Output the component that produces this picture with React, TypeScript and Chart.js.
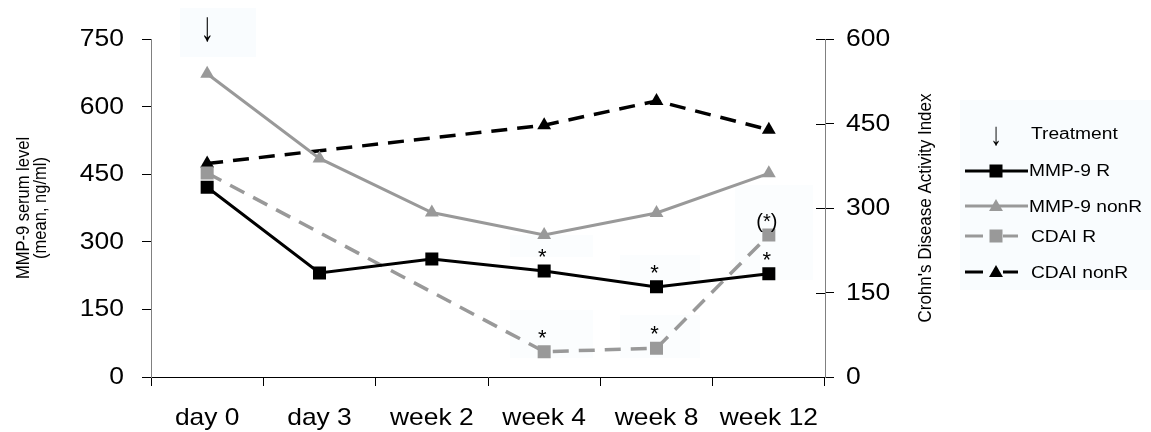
import React, { useEffect, useRef } from 'react';
import { Chart, registerables } from 'chart.js';

Chart.register(...registerables);

const categories = ['day 0', 'day 3', 'week 2', 'week 4', 'week 8', 'week 12'];
const mmp9R = [421, 231, 262, 235, 200, 229];
const mmp9NonR = [673, 485, 365, 315, 364, 452];
const cdaiR = [362, null, null, 45, 51, 252];
const cdaiNonR = [379, null, null, 447, 490, 439];
const leftTicks = [0, 150, 300, 450, 600, 750];
const rightTicks = [0, 150, 300, 450, 600];
const leftTitle = ['MMP-9 serum level', '(mean, ng/ml)'];
const rightTitle = "Crohn's Disease Activity Index";
const seriesNames = ['MMP-9 R', 'MMP-9 nonR', 'CDAI R', 'CDAI nonR'];
const treatmentLabel = 'Treatment';
const annotationSeries = [0, 0, 0, 2, 2, 2];
const annotationIndex = [3, 4, 5, 3, 4, 5];
const annotationText = ['*', '*', '*', '*', '*', '(*)'];

const FONT = '"Liberation Sans", Arial, sans-serif';
const GRAY = '#999999';
const SX = 1.2;

function stretchedText(ctx: CanvasRenderingContext2D, text: string, x: number, y: number, align: CanvasTextAlign, size: number, sx = SX) {
  ctx.save();
  ctx.font = `${size}px ${FONT}`;
  ctx.fillStyle = '#000';
  ctx.textAlign = align;
  ctx.textBaseline = 'alphabetic';
  ctx.translate(x, y);
  ctx.scale(sx, 1);
  ctx.fillText(text, 0, 0);
  ctx.restore();
}

function rotatedText(ctx: CanvasRenderingContext2D, text: string, x: number, y: number, size: number, sy = 1) {
  ctx.save();
  ctx.font = `${size}px ${FONT}`;
  ctx.fillStyle = '#000';
  ctx.textAlign = 'center';
  ctx.textBaseline = 'middle';
  ctx.translate(x, y);
  ctx.rotate(-Math.PI / 2);
  ctx.scale(1, sy);
  ctx.fillText(text, 0, 0);
  ctx.restore();
}

function arrowText(ctx: CanvasRenderingContext2D, x: number, y: number, size: number, sy: number) {
  ctx.save();
  ctx.font = `${size}px ${FONT}`;
  ctx.fillStyle = '#000';
  ctx.textAlign = 'center';
  ctx.textBaseline = 'middle';
  ctx.translate(x, y);
  ctx.scale(0.95, sy);
  ctx.fillText('\u2193', 0, 0);
  ctx.restore();
}

function drawSquare(ctx: CanvasRenderingContext2D, x: number, y: number, color: string) {
  ctx.fillStyle = color;
  ctx.fillRect(x - 6.5, y - 6.5, 13, 13);
}

function drawTriangle(ctx: CanvasRenderingContext2D, x: number, y: number, color: string) {
  const r = 8;
  ctx.fillStyle = color;
  ctx.beginPath();
  ctx.moveTo(x, y - r);
  ctx.lineTo(x + r * 0.866, y + r / 2);
  ctx.lineTo(x - r * 0.866, y + r / 2);
  ctx.closePath();
  ctx.fill();
}

const decorPlugin = {
  id: 'decor',
  beforeDraw(chart: any) {
    const ctx: CanvasRenderingContext2D = chart.ctx;
    ctx.save();
    ctx.fillStyle = '#ffffff';
    ctx.fillRect(0, 0, chart.width, chart.height);
    ctx.fillStyle = '#f9fcfe';
    ctx.fillRect(180, 8, 76, 49);
    ctx.fillRect(960, 100, 191, 190);
    ctx.fillStyle = '#fbfdfe';
    ctx.fillRect(510, 235, 83, 22);
    ctx.fillRect(510, 310, 83, 48);
    ctx.fillRect(620, 255, 80, 25);
    ctx.fillRect(620, 315, 80, 43);
    ctx.fillRect(735, 185, 78, 95);
    ctx.restore();
  },
  afterDraw(chart: any) {
    const ctx: CanvasRenderingContext2D = chart.ctx;
    const yL = chart.scales.y;
    const yR = chart.scales.y1;
    const x = chart.scales.x;
    const area = chart.chartArea;

    // inner part of right axis ticks
    ctx.save();
    ctx.strokeStyle = '#000';
    ctx.lineWidth = 1;
    rightTicks.forEach((v) => {
      const py = Math.round(yR.getPixelForValue(v)) + 0.5;
      ctx.beginPath();
      ctx.moveTo(area.right - 9, py);
      ctx.lineTo(area.right, py);
      ctx.stroke();
    });
    ctx.restore();

    // tick labels
    leftTicks.forEach((v) => {
      stretchedText(ctx, String(v), 124, yL.getPixelForValue(v) + 7, 'right', 23, 1.15);
    });
    rightTicks.forEach((v) => {
      stretchedText(ctx, String(v), 846, yR.getPixelForValue(v) + 7, 'left', 23, 1.15);
    });
    categories.forEach((c, i) => {
      stretchedText(ctx, c, x.getPixelForValue(i), 425, 'center', 24, 1.1);
    });

    // axis titles
    rotatedText(ctx, leftTitle[0], 24, 208, 16.5, 1.15);
    rotatedText(ctx, leftTitle[1], 41, 208, 16.5, 1.15);
    rotatedText(ctx, rightTitle, 926, 208, 17, 1.1);

    // treatment arrow
    arrowText(ctx, x.getPixelForValue(0), 29, 28, 1.5);

    // annotations
    annotationText.forEach((t, k) => {
      const pt = chart.getDatasetMeta(annotationSeries[k]).data[annotationIndex[k]];
      if (!pt) return;
      const size = t === '*' ? 22 : 20;
      stretchedText(ctx, t, pt.x - 2, pt.y - 7, 'center', size, 1.0);
    });

    // legend
    arrowText(ctx, 996, 136, 24, 1.35);
    stretchedText(ctx, treatmentLabel, 1031, 139, 'left', 16);

    const rows = [
      { y: 171, color: '#000', dash: [] as number[], shape: 'sq', tx: 1029, ty: 176 },
      { y: 206, color: GRAY, dash: [] as number[], shape: 'tri', tx: 1029, ty: 212 },
      { y: 236, color: GRAY, dash: [18, 20], shape: 'sq', tx: 1031, ty: 242 },
      { y: 272, color: '#000', dash: [18, 20], shape: 'tri', tx: 1031, ty: 278 },
    ];
    rows.forEach((r, i) => {
      ctx.save();
      ctx.strokeStyle = r.color;
      ctx.lineWidth = 3;
      ctx.setLineDash(r.dash);
      ctx.beginPath();
      ctx.moveTo(965, r.y);
      ctx.lineTo(r.dash.length ? 1018 : 1028, r.y);
      ctx.stroke();
      ctx.restore();
      if (r.shape === 'sq') drawSquare(ctx, 996, r.y, r.color);
      else drawTriangle(ctx, 996, r.y + 1, r.color);
      stretchedText(ctx, seriesNames[i], r.tx, r.ty, 'left', 16);
    });
  },
};

export default function App() {
  const ref = useRef<HTMLCanvasElement>(null);
  useEffect(() => {
    document.body.style.margin = '0';
    const canvas = ref.current!;
    const chart = new Chart(canvas, {
      type: 'line',
      data: {
        labels: categories,
        datasets: [
          {
            label: seriesNames[0], data: mmp9R, yAxisID: 'y',
            borderColor: '#000', backgroundColor: '#000', borderWidth: 3,
            pointStyle: 'rect', pointRadius: 9.2, pointBorderWidth: 0,
            pointBackgroundColor: '#000', tension: 0,
          },
          {
            label: seriesNames[1], data: mmp9NonR, yAxisID: 'y',
            borderColor: GRAY, backgroundColor: GRAY, borderWidth: 3,
            pointStyle: 'triangle', pointRadius: 8, pointBorderWidth: 0,
            pointBackgroundColor: GRAY, tension: 0,
          },
          {
            label: seriesNames[2], data: cdaiR, yAxisID: 'y1', spanGaps: true,
            borderColor: GRAY, backgroundColor: GRAY, borderWidth: 3.5, borderDash: [16, 10],
            pointStyle: 'rect', pointRadius: 9.2, pointBorderWidth: 0,
            pointBackgroundColor: GRAY, tension: 0,
          },
          {
            label: seriesNames[3], data: cdaiNonR, yAxisID: 'y1', spanGaps: true,
            borderColor: '#000', backgroundColor: '#000', borderWidth: 3.5, borderDash: [16, 10],
            pointStyle: 'triangle', pointRadius: 8, pointBorderWidth: 0,
            pointBackgroundColor: '#000', tension: 0,
          },
        ] as any,
      },
      options: {
        responsive: false,
        animation: false,
        events: [],
        layout: { padding: { top: 39, left: 0, right: 0, bottom: 0 } },
        plugins: { legend: { display: false }, tooltip: { enabled: false } },
        scales: {
          x: {
            type: 'category',
            offset: true,
            grid: { offset: true, drawOnChartArea: false, drawTicks: true, tickLength: 9, tickColor: '#000', tickWidth: 1 },
            border: { display: true, color: '#000', width: 1 },
            ticks: { display: false },
            afterFit: (s: any) => { s.height = 55; },
          },
          y: {
            position: 'left', min: 0, max: 750,
            afterBuildTicks: (s: any) => { s.ticks = leftTicks.map((v) => ({ value: v })); },
            grid: { drawOnChartArea: false, drawTicks: true, tickLength: 9, tickColor: '#000', tickWidth: 1 },
            border: { display: true, color: '#808080', width: 1 },
            ticks: { display: false },
            afterFit: (s: any) => { s.width = 151; },
          },
          y1: {
            position: 'right', min: 0, max: 600,
            afterBuildTicks: (s: any) => { s.ticks = rightTicks.map((v) => ({ value: v })); },
            grid: { drawOnChartArea: false, drawTicks: true, tickLength: 9, tickColor: '#000', tickWidth: 1 },
            border: { display: true, color: '#808080', width: 1 },
            ticks: { display: false },
            afterFit: (s: any) => { s.width = 326; },
          },
        },
      } as any,
      plugins: [decorPlugin],
    });
    return () => chart.destroy();
  }, []);
  return (
    <div style={{ width: 1151, height: 432 }}>
      <canvas ref={ref} width={1151} height={432} style={{ display: 'block' }} />
    </div>
  );
}
